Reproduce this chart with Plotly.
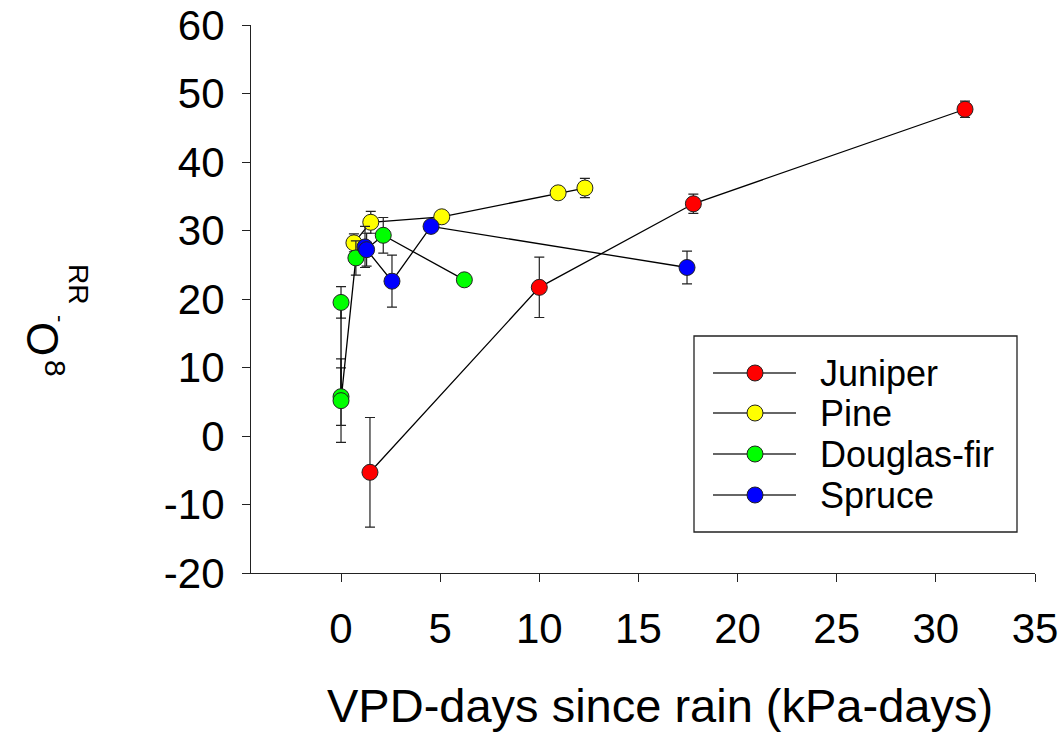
import plotly.graph_objects as go

# ---- data ----
juniper_x = [1.46, 10.0, 17.77, 31.47]
juniper_y = [-5.3, 21.7, 33.9, 47.7]
juniper_e = [8.0, 4.4, 1.4, 1.2]

pine_x = [0.65, 1.5, 5.08, 10.95, 12.3]
pine_y = [28.2, 31.2, 32.0, 35.5, 36.2]
pine_e = [1.3, 1.6, 0.6, 0.6, 1.4]

doug_x = [0.0, 0.0, 0.0, 0.75, 2.13, 6.22]
doug_y = [19.5, 5.74, 5.16, 26.0, 29.3, 22.8]
doug_e = [2.3, 4.2, 6.1, 2.5, 2.6, 0.5]

spruce_x = [1.21, 1.29, 2.57, 4.54, 17.45]
spruce_y = [27.6, 27.2, 22.6, 30.6, 24.6]
spruce_e = [3.0, 2.4, 3.8, 0.6, 2.4]

names = ["Juniper", "Pine", "Douglas-fir", "Spruce"]
colors = ["#ff0000", "#ffff00", "#00ff00", "#0000ff"]
series = [(juniper_x, juniper_y, juniper_e), (pine_x, pine_y, pine_e),
          (doug_x, doug_y, doug_e), (spruce_x, spruce_y, spruce_e)]

x_ticks = [0, 5, 10, 15, 20, 25, 30, 35]
x_ticktext = ["0", "5", "10", "15", "20", "25", "30", "35"]
y_ticks = [-20, -10, 0, 10, 20, 30, 40, 50, 60]
y_ticktext = ["-20", "-10", "0", "10", "20", "30", "40", "50", "60"]

# ---- layout geometry (pixels) ----
W, H = 1063, 733
L, R, T, B = 251, 1035, 25, 573
FONT = "Liberation Sans, Arial"

fig = go.Figure()
for (xs, ys, es), nm, c in zip(series, names, colors):
    fig.add_trace(go.Scatter(
        x=xs, y=ys, mode="lines+markers", name=nm, showlegend=False,
        line=dict(color="black", width=1.3),
        marker=dict(size=16, color=c, opacity=1, line=dict(color="#222222", width=1)),
        error_y=dict(type="data", array=es, visible=True, color="#222222",
                     thickness=1.2, width=5),
        cliponaxis=False,
    ))

# custom legend on a pixel-scaled overlay axis
leg_rows = [373, 413, 454, 495]
for nm, c, yy in zip(names, colors, leg_rows):
    fig.add_trace(go.Scatter(
        x=[713, 796], y=[yy, yy], xaxis="x2", yaxis="y2",
        mode="lines", showlegend=False, hoverinfo="skip",
        line=dict(color="#333333", width=1.3),
    ))
    fig.add_trace(go.Scatter(
        x=[755], y=[yy], xaxis="x2", yaxis="y2",
        mode="markers", showlegend=False, hoverinfo="skip",
        marker=dict(size=16, color=c, opacity=1, line=dict(color="#222222", width=1)),
    ))
    fig.add_annotation(x=818, y=yy, xref="x2", yref="y2", text=nm, showarrow=False,
                       xanchor="left", yanchor="middle",
                       font=dict(family=FONT, size=36, color="black"))

fig.add_shape(type="rect", xref="x2", yref="y2", x0=694, x1=1017, y0=336, y1=532,
              line=dict(color="#222222", width=1.3), fillcolor="rgba(0,0,0,0)")

def px(x):
    return (x - L) / (R - L)

def py(y):
    return (B - y) / (B - T)

# x-axis title
fig.add_annotation(x=px(660), y=py(705), xref="paper", yref="paper",
                   text="VPD-days since rain (kPa-days)", showarrow=False,
                   xanchor="center", yanchor="middle",
                   font=dict(family=FONT, size=47, color="black"))

# y-axis title pieces (as rendered in the reference)
ytitle = [("RR", 79, 284, 28), ("-", 61, 318, 22), ("O", 43, 339, 44), ("8", 56, 368, 30)]
for txt, xx, yy, fs in ytitle:
    fig.add_annotation(x=px(xx), y=py(yy), xref="paper", yref="paper", text=txt,
                       textangle=90, showarrow=False, xanchor="center", yanchor="middle",
                       font=dict(family=FONT, size=fs, color="black"))

fig.update_layout(
    width=W, height=H,
    margin=dict(l=L, r=W - R, t=T, b=H - B, pad=0, autoexpand=False),
    paper_bgcolor="white", plot_bgcolor="white",
    font=dict(family=FONT, color="black"),
    xaxis=dict(range=[-4.54, 35], tickvals=x_ticks, ticktext=x_ticktext,
               ticks="outside", ticklen=8, automargin=False,
               tickcolor="#222222", tickwidth=1.2,
               showline=True, linecolor="#222222", linewidth=1.2, showgrid=False,
               zeroline=False, tickfont=dict(size=42), ticklabelstandoff=10),
    yaxis=dict(range=[-20, 60], tickvals=y_ticks, ticktext=y_ticktext,
               ticks="outside", ticklen=8, automargin=False,
               tickcolor="#222222", tickwidth=1.2,
               showline=True, linecolor="#222222", linewidth=1.2, showgrid=False,
               zeroline=False, tickfont=dict(size=42), ticklabelstandoff=9),
    xaxis2=dict(range=[L, R], overlaying="x", visible=False, automargin=False),
    yaxis2=dict(range=[B, T], overlaying="y", visible=False, automargin=False),
)

fig.write_html("out.html")
